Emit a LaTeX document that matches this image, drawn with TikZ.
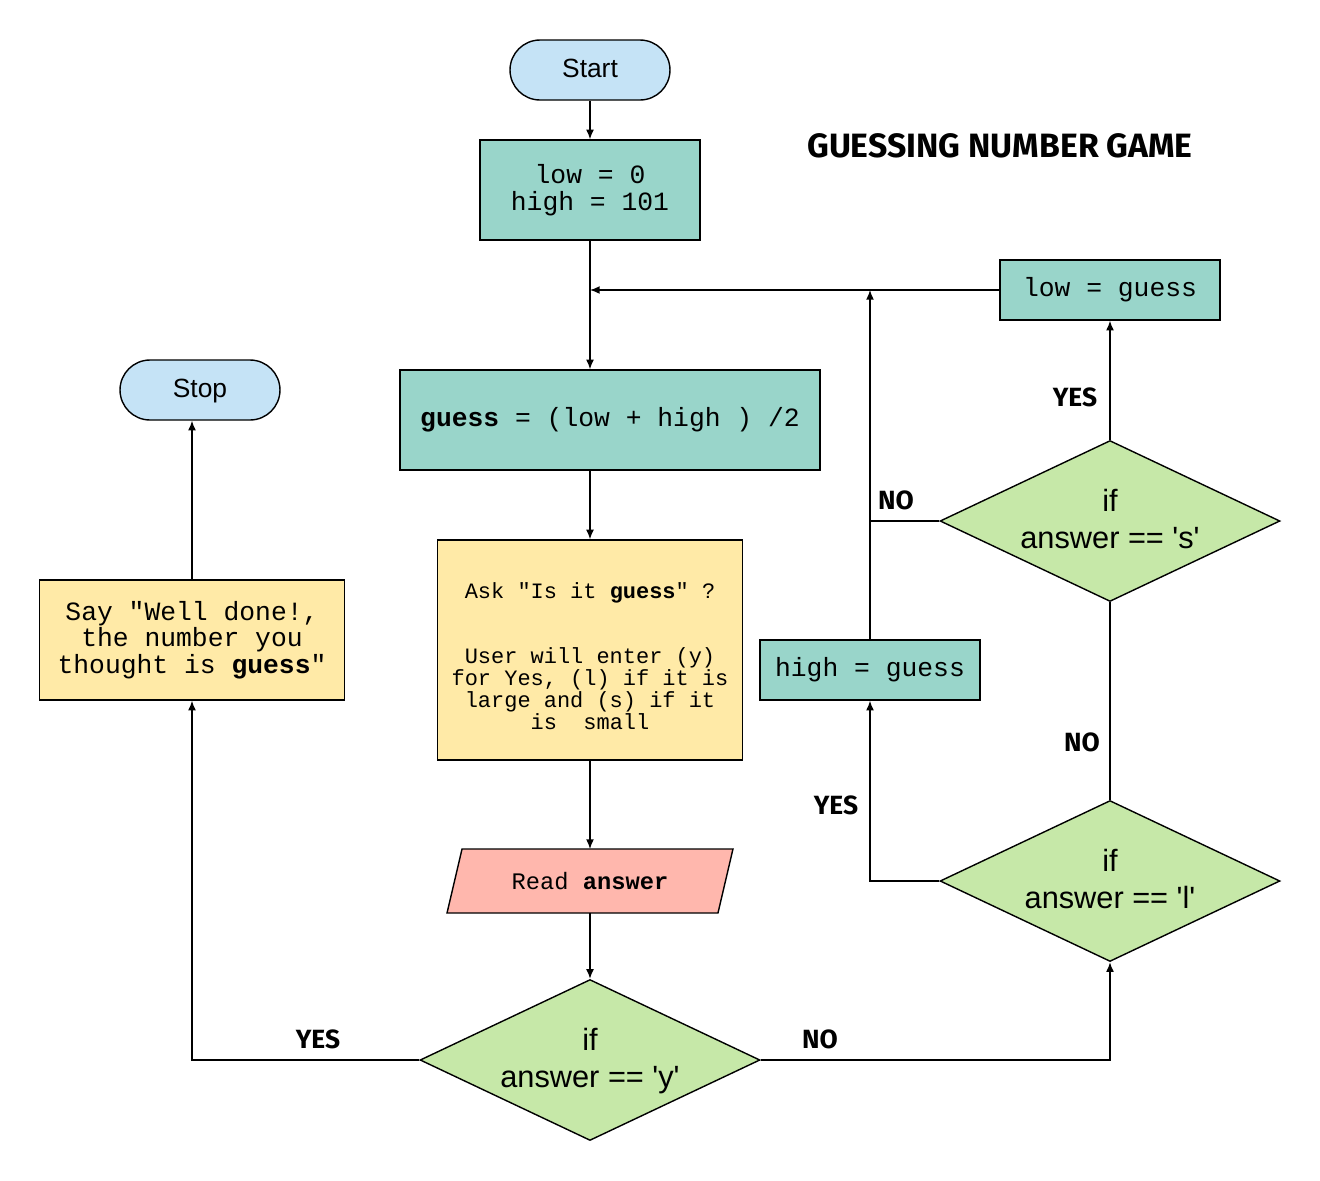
\documentclass[tikz,border=0pt]{standalone}
\usepackage{fontspec}
\setmainfont{Liberation Sans}
\setsansfont{Liberation Sans}
\setmonofont{Liberation Mono}
\newfontfamily\comicfont{Fira Sans}
\usetikzlibrary{shapes.geometric,arrows.meta,positioning,backgrounds}

\definecolor{termblue}{HTML}{C5E3F6}
\definecolor{procteal}{HTML}{99D5CA}
\definecolor{askyellow}{HTML}{FFEAA7}
\definecolor{readpink}{HTML}{FFB7AD}
\definecolor{decgreen}{HTML}{C6E8A8}

\tikzset{
  base/.style={draw, line width=0.8pt, align=center, inner sep=2pt},
  terminal/.style={base, rounded corners=0.6cm, fill=termblue, minimum width=3.2cm, minimum height=1.2cm, text depth=0.21em, font=\fontsize{15}{18}\selectfont},
  process/.style={base, rectangle, fill=procteal, font=\ttfamily\fontsize{15}{15.3}\selectfont},
  note/.style={base, rectangle, fill=askyellow},
  io/.style={rectangle, align=center, outer sep=0pt, minimum width=5.42cm, minimum height=1.28cm, font=\ttfamily\fontsize{13.5}{15}\selectfont},
  decision/.style={base, diamond, aspect=2.125, minimum width=6.8cm, minimum height=3.22cm, inner sep=0pt, text depth=0.21em, fill=decgreen, font=\fontsize{17.5}{21}\selectfont},
  lbl/.style={font=\comicfont\bfseries\fontsize{15}{17}\selectfont},
  flow/.style={line width=0.8pt, -{Latex[length=5.5pt,width=4.5pt]}},
  link/.style={line width=0.8pt}
}

\begin{document}
\begin{tikzpicture}[x=0.02cm, y=-0.02cm]
\useasboundingbox (0,0) rectangle (1320,1181);

% terminals
\node[terminal] (start) at (590,70) {Start};
\node[terminal] (stop) at (200,390) {Stop};

% title
\node[lbl, font=\comicfont\bfseries\fontsize{19.2}{21}\selectfont] (title) at (1000,146) {GUESSING NUMBER GAME};

% processes
\node[process, minimum width=4.4cm, minimum height=2cm] (init) at (590,190) {low = 0\\high = 101};
\node[process, minimum width=8.4cm, minimum height=2cm] (calc) at (610,420) {\textbf{guess} = (low + high ) /2};
\node[process, minimum width=4.4cm, minimum height=1.2cm] (lowset) at (1110,290) {low = guess};
\node[process, minimum width=4.4cm, minimum height=1.2cm] (highset) at (870,670) {high = guess};

% notes
\node[note, minimum width=6.1cm, minimum height=4.4cm, font=\ttfamily\fontsize{12.5}{12.5}\selectfont] (ask) at (590,650)
  {\rule{0pt}{16pt}Ask "Is it \textbf{guess}" ?\\[2\baselineskip]User will enter (y)\\for Yes, (l) if it is\\large and (s) if it\\is~~small};
\node[note, minimum width=6.1cm, minimum height=2.4cm, font=\ttfamily\fontsize{15}{15}\selectfont] (say) at (192,640)
  {Say "Well done!,\\the number you\\thought is \textbf{guess}"};

% input (parallelogram)
\node[io] (read) at (590,881) {Read \textbf{answer}};
\begin{scope}[on background layer]
\filldraw[fill=readpink, line width=0.8pt] ([xshift=0.15cm]read.north west) -- ([xshift=0.15cm]read.north east)
  -- ([xshift=-0.15cm]read.south east) -- ([xshift=-0.15cm]read.south west) -- cycle;
\end{scope}

% decisions
\node[decision] (dy) at (590,1060) {if\\answer == \textquotesingle y\textquotesingle};
\node[decision] (dl) at (1110,881) {if\\answer == \textquotesingle l\textquotesingle};
\node[decision] (ds) at (1110,521) {if\\answer == \textquotesingle s\textquotesingle};

% main line
\coordinate (join) at (590,290);
\draw[flow] (start) -- (init);
\draw[flow] (init) -- (init |- calc.north);
\draw[flow] (ask.north |- calc.south) -- (ask);
\draw[flow] (ask) -- (read);
\draw[flow] (read) -- (dy);

% answer == y
\draw[flow] (dy.west) -| (say);
\draw[flow] (say) -- (say |- stop.south);

% answer != y
\draw[flow] (dy.east) -| (dl);
\draw[flow] (dl.west) -| (highset);
\draw[link] (dl) -- (ds);
\draw[flow] (ds) -- (lowset);
\draw[link] (ds.west) -- (ds.west -| highset);
\draw[flow] (highset) -- (highset |- lowset);
\draw[flow] (lowset) -- (join);

% labels
\node[lbl] (yes1) at (318,1039) {YES};
\node[lbl] (no1) at (820,1039) {NO};
\node[lbl] (yes2) at (836,805) {YES};
\node[lbl] (no2) at (1082,742) {NO};
\node[lbl] (no3) at (896,500) {NO};
\node[lbl] (yes3) at (1075,397) {YES};

\end{tikzpicture}
\end{document}
